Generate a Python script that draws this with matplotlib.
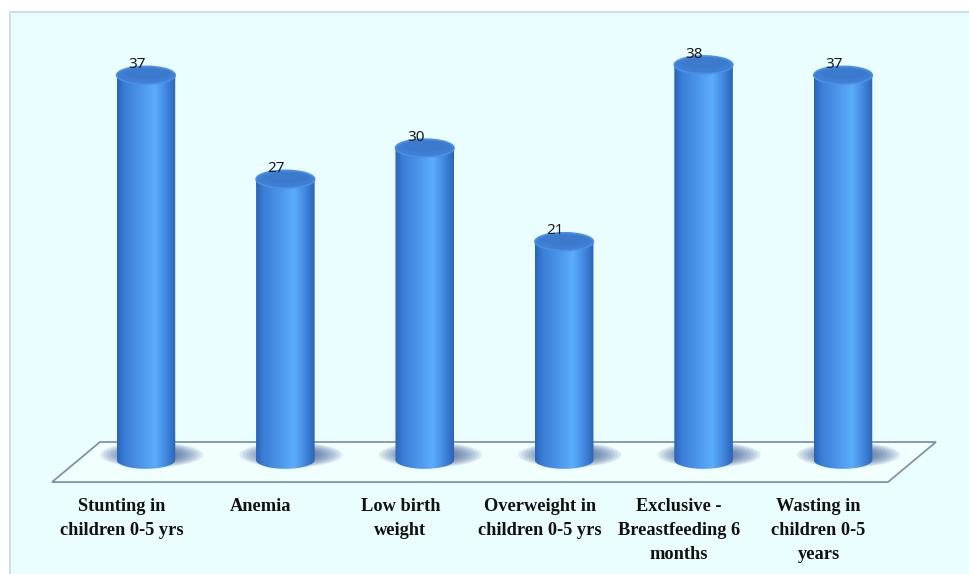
import numpy as np
import matplotlib
matplotlib.use("Agg")
import matplotlib.pyplot as plt
from matplotlib.patches import Ellipse, Polygon, Rectangle, PathPatch
from matplotlib.path import Path
from matplotlib.colors import LinearSegmentedColormap

categories = [
    "Stunting in\nchildren 0-5 yrs",
    "Anemia",
    "Low birth\nweight",
    "Overweight in\nchildren 0-5 yrs",
    "Exclusive -\nBreastfeeding 6\nmonths",
    "Wasting in\nchildren 0-5\nyears",
]
values = [37, 27, 30, 21, 38, 37]

W, H = 969, 574
fig = plt.figure(figsize=(W / 100, H / 100), dpi=100)
fig.patch.set_facecolor("white")

ax = fig.add_axes([0, 0, 1, 1])
ax.set_facecolor("none")
ax.set_xlim(-1.047, 5.904)
ax.set_ylim(-10.96, 44.23)
ax.axis("off")

# light panel behind the chart
ax.add_patch(Rectangle((10 / W, -0.01), 1, (H - 12) / H + 0.01, transform=ax.transAxes,
                       facecolor="#ebfeff", edgecolor="#c6d8e8", lw=1.2, zorder=0))

bar_w = 0.42      # cylinder diameter in category units
cap_h = 1.7       # ellipse height in value units

# floor of the 3D plot
floor = Polygon([(-0.674, -2.12), (-0.33, 1.73), (5.667, 1.73), (5.323, -2.12)],
                closed=True, facecolor="#f1ffff", edgecolor="#8391ad", lw=1.3, zorder=1)
ax.add_patch(floor)

body_cmap = LinearSegmentedColormap.from_list("cyl", [
    (0.0, "#2a63b6"), (0.12, "#3a7dd6"), (0.45, "#4f9aef"),
    (0.65, "#5badfc"), (0.85, "#3f84dc"), (1.0, "#2b64b5")])
grad = np.linspace(0, 1, 256).reshape(1, -1)

for i, v in enumerate(values):
    x0, x1 = i - bar_w / 2, i + bar_w / 2

    # soft shadow on the floor
    for k in range(12):
        s = 1 - k * 0.065
        ax.add_patch(Ellipse((i + 0.04, 0.5), 0.74 * s, 2.4 * s,
                             facecolor="#2a4888", edgecolor="none", alpha=0.11, zorder=2))

    # cylinder body: gradient clipped to rectangle + bottom half ellipse
    t = np.linspace(np.pi, 2 * np.pi, 40)
    arc = np.column_stack([i + bar_w / 2 * np.cos(t), cap_h / 2 * np.sin(t)])
    verts = np.vstack([[(x0, v)], arc, [(x1, v)], [(x0, v)]])
    body = Path(verts, closed=True)
    patch = PathPatch(body, facecolor="none", edgecolor="none")
    ax.add_patch(patch)
    im = ax.imshow(grad, cmap=body_cmap, extent=[x0, x1, -cap_h, v],
                   aspect="auto", zorder=3, interpolation="bilinear")
    im.set_clip_path(patch)

    # top cap
    ax.add_patch(Ellipse((i, v), bar_w, cap_h, facecolor="#3f7fd3",
                         edgecolor="#4b90e6", lw=1.2, zorder=4))
    ax.add_patch(Ellipse((i + 0.01, v + 0.15), bar_w * 0.8, cap_h * 0.6,
                         facecolor="#3a78cc", edgecolor="none", alpha=0.6, zorder=4))

    ax.text(i - 0.065, v + 0.7, str(v), ha="center", va="baseline",
            fontsize=11, family="Noto Sans", color="#1a1a1a", zorder=5)

    ax.text(i - 0.175, -3.65, categories[i], ha="center", va="top",
            fontsize=13.2, family="Liberation Serif", fontweight="bold",
            color="#111111", linespacing=1.55, zorder=5)

ax.set_xlim(-1.047, 5.904)
ax.set_ylim(-10.96, 44.23)

fig.savefig("out.png", dpi=100, facecolor=fig.get_facecolor())
